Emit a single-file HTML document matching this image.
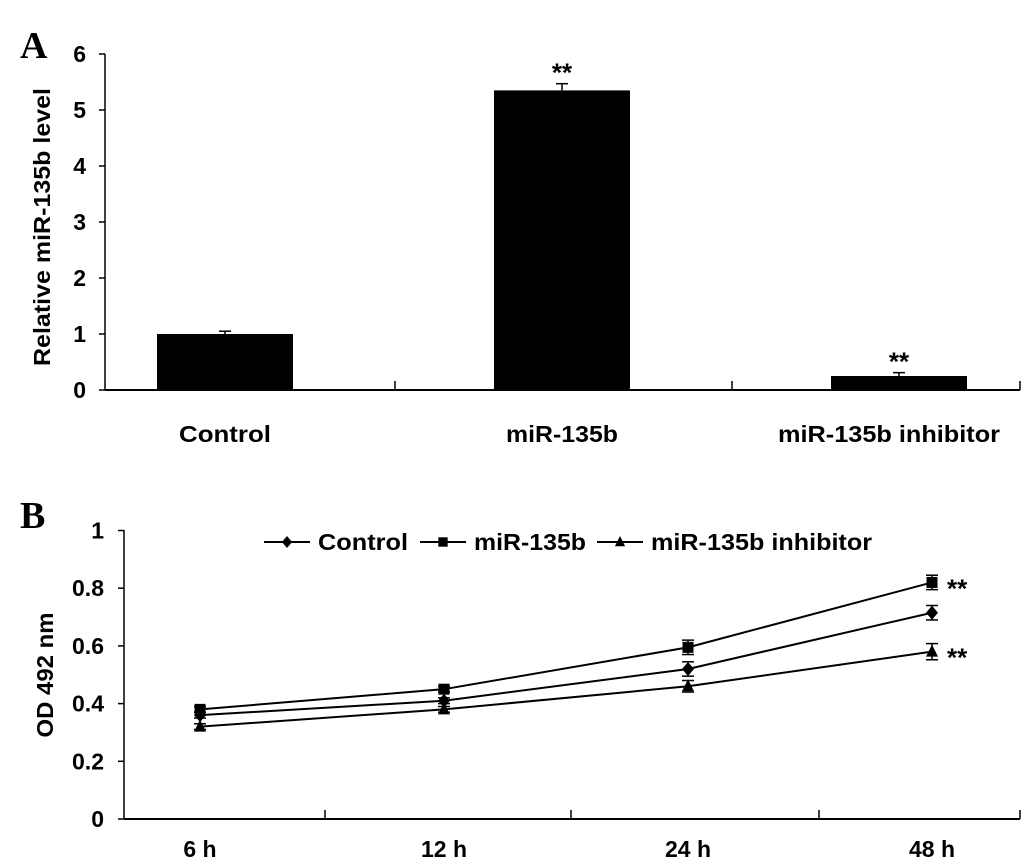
<!DOCTYPE html>
<html><head><meta charset="utf-8"><style>
body{margin:0;background:#fff}
svg text{font-family:"Liberation Sans",Arial,sans-serif;font-weight:bold;fill:#000}
</style></head><body>
<svg width="1033" height="862" viewBox="0 0 1033 862" xmlns="http://www.w3.org/2000/svg" id="fig">
<text x="20" y="58" style="font-family:'Liberation Serif',serif;font-size:38px">A</text>
<text x="20" y="528" style="font-family:'Liberation Serif',serif;font-size:38px">B</text>
<g id="ga"></g>
<g id="gb"></g>
</svg>
<script>
const NS="http://www.w3.org/2000/svg";
const barCats=["Control","miR-135b","miR-135b inhibitor"];
const barVals=[1.0,5.35,0.25];
const barErrs=[0.05,0.12,0.06];
const barSig=["","**","**"];
const aTicks=[0,1,2,3,4,5,6];
const lineCats=["6  h","12  h","24  h","48  h"];
const seriesNames=["Control","miR-135b","miR-135b inhibitor"];
const ctrlVals=[0.36,0.41,0.52,0.715];
const mirVals=[0.38,0.45,0.595,0.82];
const inhVals=[0.32,0.38,0.46,0.58];
const ctrlErr=[0.01,0.01,0.025,0.025];
const mirErr=[0.01,0.01,0.025,0.025];
const inhErr=[0.01,0.01,0.02,0.028];
const lineSig=["","**","**"];
const bTicks=[0,0.2,0.4,0.6,0.8,1];
const catW=[92,112,222];
const legW=[90,112,221];
function el(p,t,a){const e=document.createElementNS(NS,t);for(const k in a)e.setAttribute(k,a[k]);p.appendChild(e);return e;}
// Panel A
const ga=document.getElementById('ga');
const ay=v=>390-v*56;
const ax=i=>225+i*337;
el(ga,'line',{x1:105,y1:54,x2:105,y2:390,stroke:'#000','stroke-width':1.5});
el(ga,'line',{x1:105,y1:390,x2:1020,y2:390,stroke:'#000','stroke-width':2});
aTicks.forEach(t=>{el(ga,'line',{x1:99,y1:ay(t),x2:105,y2:ay(t),stroke:'#000','stroke-width':1.5});
const tx=el(ga,'text',{x:86,y:ay(t)+8,'font-size':23,'text-anchor':'end'});tx.textContent=t;

});
[395,732,1020].forEach(x=>el(ga,'line',{x1:x,y1:381,x2:x,y2:390,stroke:'#000','stroke-width':1.5}));
barCats.forEach((c,i)=>{
const r=el(ga,'rect',{x:ax(i)-68,y:ay(barVals[i]),width:136,height:390-ay(barVals[i]),fill:'#000'});


const et=ay(barVals[i]+barErrs[i]);
el(ga,'line',{x1:ax(i),y1:et,x2:ax(i),y2:ay(barVals[i]),stroke:'#000','stroke-width':1.5});
el(ga,'line',{x1:ax(i)-6,y1:et,x2:ax(i)+6,y2:et,stroke:'#000','stroke-width':1.5});
if(barSig[i]){const s=el(ga,'text',{x:ax(i),y:et-2,'font-size':26,'text-anchor':'middle'});s.textContent=barSig[i];

}
const lx=Math.min(ax(i),1000-catW[i]/2);
const l=el(ga,'text',{x:lx,y:442,'font-size':23,'text-anchor':'middle',textLength:catW[i],lengthAdjust:'spacingAndGlyphs'});l.textContent=c;


});
const at=el(ga,'text',{x:50,y:227,'font-size':23,'text-anchor':'middle',transform:'rotate(-90 50 227)',textLength:278,lengthAdjust:'spacingAndGlyphs'});at.textContent='Relative miR-135b level';


// Panel B
const gb=document.getElementById('gb');
const by=v=>819-v*288.5;
const bx=i=>200+i*244;
el(gb,'line',{x1:124,y1:530,x2:124,y2:819,stroke:'#000','stroke-width':1.5});
el(gb,'line',{x1:124,y1:819,x2:1020,y2:819,stroke:'#000','stroke-width':2});
bTicks.forEach(t=>{el(gb,'line',{x1:118,y1:by(t),x2:124,y2:by(t),stroke:'#000','stroke-width':1.5});
const tx=el(gb,'text',{x:104,y:by(t)+8,'font-size':23,'text-anchor':'end'});tx.textContent=t;

});
[325,571,819,1020].forEach(x=>el(gb,'line',{x1:x,y1:810,x2:x,y2:819,stroke:'#000','stroke-width':1.5}));
lineCats.forEach((c,i)=>{const l=el(gb,'text',{x:bx(i),y:857,'font-size':23,'text-anchor':'middle'});l.textContent=c;l.setAttribute('xml:space','preserve');

});
function marker(g,k,x,y,s){
if(k===0)el(g,'polygon',{points:`${x},${y-7*s} ${x+6*s},${y} ${x},${y+7*s} ${x-6*s},${y}`,fill:'#000'});
else if(k===1)el(g,'rect',{x:x-5.5*s,y:y-5.5*s,width:11*s,height:11*s,fill:'#000'});
else el(g,'polygon',{points:`${x},${y-7*s} ${x+6*s},${y+5*s} ${x-6*s},${y+5*s}`,fill:'#000'});}
[[ctrlVals,ctrlErr],[mirVals,mirErr],[inhVals,inhErr]].forEach(([vals,errs],k)=>{
const g=el(gb,'g',{});


el(g,'polyline',{points:vals.map((v,i)=>bx(i)+','+by(v)).join(' '),fill:'none',stroke:'#000','stroke-width':2});
vals.forEach((v,i)=>{const x=bx(i),t=by(v+errs[i]),b=by(v-errs[i]);
el(g,'line',{x1:x,y1:t,x2:x,y2:b,stroke:'#000','stroke-width':1.5});
el(g,'line',{x1:x-6,y1:t,x2:x+6,y2:t,stroke:'#000','stroke-width':1.5});
el(g,'line',{x1:x-6,y1:b,x2:x+6,y2:b,stroke:'#000','stroke-width':1.5});
marker(g,k,x,by(v),1);});
if(lineSig[k]){const s=el(g,'text',{x:bx(3)+15,y:by(vals[3])+15,'font-size':26});s.textContent=lineSig[k];

}
});
const legX=[264,420,597];
seriesNames.forEach((n,k)=>{const g=el(gb,'g',{});


el(g,'line',{x1:legX[k],y1:542,x2:legX[k]+46,y2:542,stroke:'#000','stroke-width':2});
marker(g,k,legX[k]+23,542,0.85);
const t=el(g,'text',{x:legX[k]+54,y:550,'font-size':23,textLength:legW[k],lengthAdjust:'spacingAndGlyphs'});t.textContent=n;});
const bt=el(gb,'text',{x:53,y:675,'font-size':23,'text-anchor':'middle',transform:'rotate(-90 53 675)',textLength:125,lengthAdjust:'spacingAndGlyphs'});bt.textContent='OD 492 nm';


</script>
</body></html>
